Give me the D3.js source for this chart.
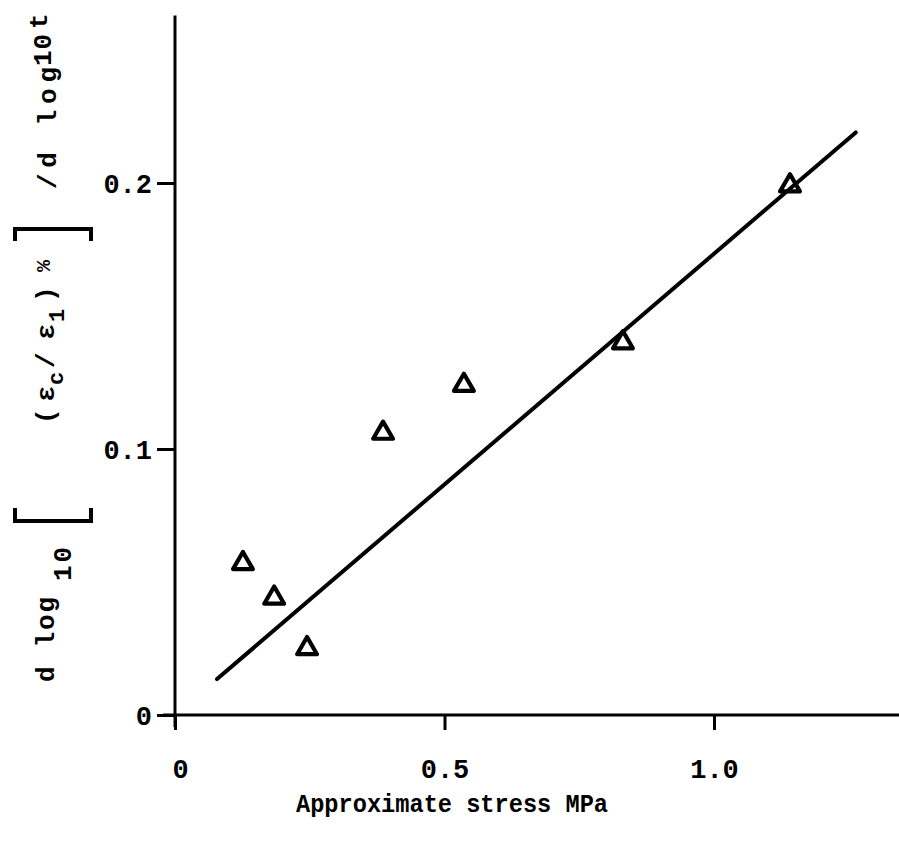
<!DOCTYPE html>
<html>
<head>
<meta charset="utf-8">
<script src="https://cdn.jsdelivr.net/npm/d3@7"></script>
<style>
  html, body { margin: 0; padding: 0; background: #fff; }
  svg { display: block; font-family: "Liberation Mono", "DejaVu Sans Mono", monospace; font-weight: bold; }
</style>
</head>
<body>
<svg id="chart"></svg>
<script>
// data
const stress = [0.126, 0.184, 0.245, 0.386, 0.536, 0.831, 1.141];
const creepRate = [0.057, 0.044, 0.025, 0.106, 0.124, 0.140, 0.199];
// straight fitted line, two end points
const fitStress = [0.078, 1.263];
const fitRate = [0.0135, 0.219];

const xTicks = [0, 0.5, 1.0];
const xTickLabels = ["0", "0.5", "1.0"];
const yTicks = [0, 0.1, 0.2];
const yTickLabels = ["0", "0.1", "0.2"];

const width = 899;
const height = 846;

const svg = d3.select("#chart").attr("width", width).attr("height", height);

// scales
const x = d3.scaleLinear().domain([0, 1]).range([175, 714]);
const y = d3.scaleLinear().domain([0, 0.2]).range([715, 183]);

// axis lines (drawn a bit past the origin like the original)
svg.append("line")
  .attr("x1", x(-0.022)).attr("x2", x(1.345))
  .attr("y1", y(0)).attr("y2", y(0))
  .attr("stroke", "black").attr("stroke-width", 3);
svg.append("line")
  .attr("x1", x(0)).attr("x2", x(0))
  .attr("y1", y(-0.0045)).attr("y2", y(0.263))
  .attr("stroke", "black").attr("stroke-width", 3);

// x-axis
const xAxis = svg.append("g")
  .attr("transform", `translate(0 ${y(0)})`)
  .call(d3.axisBottom(x).tickValues(xTicks).tickFormat((d, i) => xTickLabels[i]).tickSize(15))
  .attr("font-family", null)
  .attr("font-size", 27);
xAxis.select(".domain").remove();
xAxis.selectAll(".tick line").attr("stroke", "black").attr("stroke-width", 3);
xAxis.selectAll(".tick text")
  .attr("y", 63).attr("dy", 0)
  .attr("fill", "black");
xAxis.selectAll(".tick").filter((d) => d === 0).select("text").attr("x", 5);

// y-axis
const yAxis = svg.append("g")
  .attr("transform", `translate(${x(0)} 0)`)
  .call(d3.axisLeft(y).tickValues(yTicks).tickFormat((d, i) => yTickLabels[i]).tickSize(18))
  .attr("font-family", null)
  .attr("font-size", 27);
yAxis.select(".domain").remove();
yAxis.selectAll(".tick line").attr("stroke", "black").attr("stroke-width", 3);
yAxis.selectAll(".tick text")
  .attr("x", -23).attr("dy", "0.34em")
  .attr("fill", "black");

// fitted line
svg.append("line")
  .attr("x1", x(fitStress[0])).attr("y1", y(fitRate[0]))
  .attr("x2", x(fitStress[1])).attr("y2", y(fitRate[1]))
  .attr("stroke", "black").attr("stroke-width", 4).attr("stroke-linecap", "round");

// open triangles
svg.append("g")
  .selectAll("path")
  .data(stress)
  .join("path")
  .attr("d", d3.symbol().type(d3.symbolTriangle).size(170))
  .attr("transform", (d, i) => `translate(${x(d)} ${y(creepRate[i])})`)
  .attr("fill", "none")
  .attr("stroke", "black")
  .attr("stroke-width", 4.2)
  .attr("stroke-linejoin", "round");

// x-axis label
svg.append("text")
  .attr("x", 452).attr("y", 812)
  .attr("text-anchor", "middle")
  .attr("font-size", 26)
  .attr("textLength", 312)
  .attr("lengthAdjust", "spacingAndGlyphs")
  .text("Approximate stress MPa");

// y-axis label: rotated pieces, reading bottom to top
function vtext(str, px, py, len, size = 26) {
  svg.append("text")
    .attr("transform", `translate(${px} ${py}) rotate(-90)`)
    .attr("font-size", size)
    .attr("textLength", len)
    .attr("lengthAdjust", "spacing")
    .text(str);
}
vtext("d log", 54, 682, 85);
vtext("10", 71, 581, 34);
vtext("(ε", 54, 424, 38);
vtext("c", 63, 385, 14, 22);
vtext("/ε", 54, 368, 44);
vtext("1", 64, 322, 15, 22);
vtext(")", 54, 302, 15);
vtext("%", 50, 272, 15, 20);
vtext("/d log", 56, 189, 122);
vtext("10", 51, 66, 32);
vtext("t", 47, 29, 16);

// big square brackets around the middle part
const bracket = d3.path();
bracket.moveTo(15, 508); bracket.lineTo(15, 521); bracket.lineTo(91, 521); bracket.lineTo(91, 508);
bracket.moveTo(15, 241); bracket.lineTo(15, 229); bracket.lineTo(91, 229); bracket.lineTo(91, 241);
svg.append("path")
  .attr("d", bracket.toString())
  .attr("fill", "none")
  .attr("stroke", "black")
  .attr("stroke-width", 4);
</script>
</body>
</html>
